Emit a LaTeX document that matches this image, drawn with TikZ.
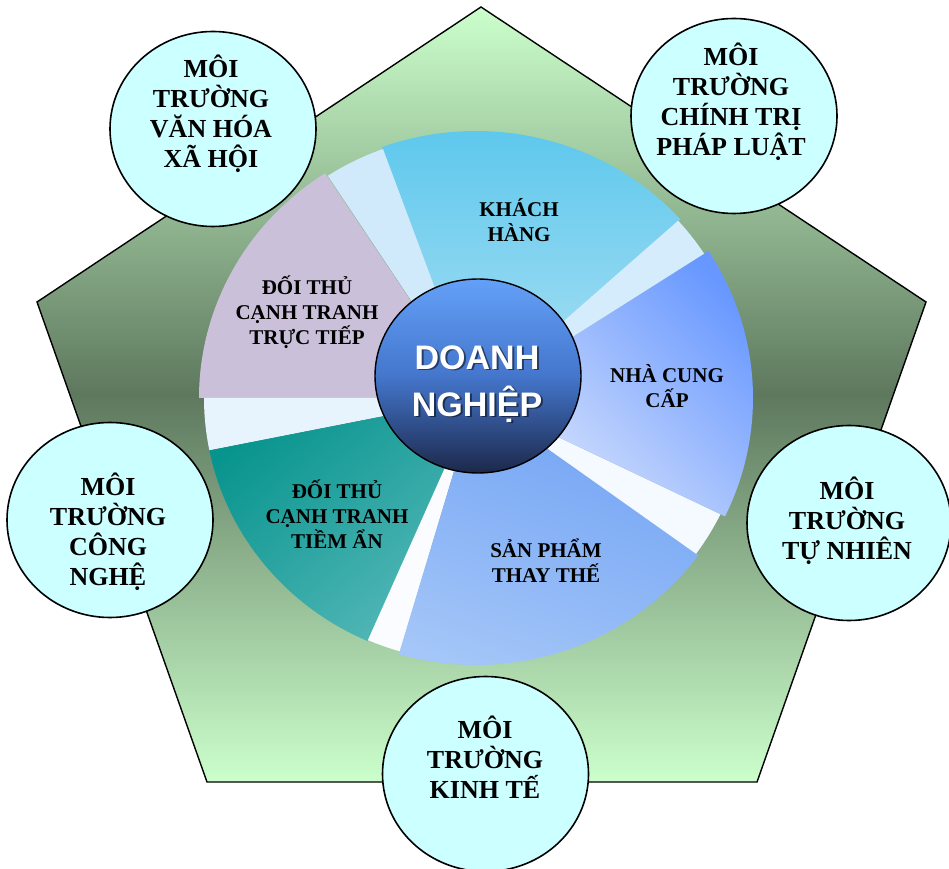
\documentclass[tikz,border=0pt]{standalone}
\usepackage{fontspec}
\setmainfont{Liberation Serif}
\newfontfamily\headsans{Liberation Sans}
\usetikzlibrary{shapes.geometric}

% palette
\definecolor{pentlight}{RGB}{204,255,204}
\definecolor{pentdark}{RGB}{94,120,94}
\definecolor{envfill}{RGB}{204,255,255}
\definecolor{khtop}{RGB}{88,198,236}
\definecolor{khbot}{RGB}{172,224,244}
\definecolor{ncctop}{RGB}{104,152,255}
\definecolor{nccbot}{RGB}{220,230,252}
\definecolor{sptop}{RGB}{112,162,244}
\definecolor{spbot}{RGB}{164,198,248}
\definecolor{tatop}{RGB}{8,148,142}
\definecolor{tabot}{RGB}{84,184,184}
\definecolor{ttfill}{RGB}{203,192,218}
\definecolor{gapa}{RGB}{208,234,252}
\definecolor{gapb}{RGB}{232,244,253}
\definecolor{gapc}{RGB}{250,252,255}
\definecolor{gapd}{RGB}{244,250,255}
\definecolor{gape}{RGB}{212,236,252}
\definecolor{dntop}{RGB}{100,160,248}
\definecolor{dnmid}{RGB}{68,118,204}
\definecolor{dnbot}{RGB}{28,40,74}

% one slice of the ring: style, start angle, end angle, x radius, y radius
\newcommand\piesector[5]{%
  \path[#1] (pc) -- ([shift={(pc)}]#2:#4 and #5)
    arc[start angle=#2, end angle=#3, x radius=#4, y radius=#5] -- cycle;}

\begin{document}
\begin{tikzpicture}[x=1pt,y=1pt,
  envbox/.style={ellipse, draw=black, line width=1.6pt, fill=envfill,
    minimum width=206pt, minimum height=195pt, inner sep=0pt},
  envtext/.style={align=center, font=\fontsize{26}{30}\selectfont\bfseries},
  pietext/.style={align=center, font=\fontsize{21}{25}\selectfont\bfseries},
  coretext/.style={align=center, font=\headsans\fontsize{34}{47}\selectfont\bfseries},
]
\useasboundingbox (0,0) rectangle (949,868);
\clip (0,0) rectangle (949,868);

% pentagon background
\draw[line width=1.4pt, top color=pentlight, bottom color=pentlight,
      middle color=pentdark]
  (481,861) -- (926,566) -- (757,86) -- (207,86) -- (37,566) -- cycle;

% ring of forces around the firm
\coordinate (pc) at (476,470);
\piesector{top color=khtop, bottom color=khbot}{42}{110}{275}{267}
\piesector{fill=gapa}{110}{123}{272}{265}
\piesector{fill=ttfill}{123}{180}{277}{268}
\piesector{fill=gapb}{180}{191.4}{272}{265}
\piesector{top color=tatop, bottom color=tabot, shading angle=40}{191.4}{246.5}{272}{265}
\piesector{fill=gapc}{246.5}{253.7}{271}{264}
\piesector{top color=sptop, bottom color=spbot, shading angle=-20}{253.7}{324}{275}{267}
\piesector{fill=gapd}{324}{334}{272}{265}
\piesector{top color=ncctop, bottom color=nccbot, shading angle=-45}{334}{393}{277}{270}
\piesector{fill=gape}{33}{42}{272}{265}

% slice labels
\node[pietext] (kh) at (519,648) {KHÁCH\\HÀNG};
\node[pietext] (ncc) at (667,482) {NHÀ CUNG\\CẤP};
\node[pietext] (tt) at (307,556) {ĐỐI THỦ\\CẠNH TRANH\\TRỰC TIẾP};
\node[pietext] (ta) at (337,354) {ĐỐI THỦ\\CẠNH TRANH\\TIỀM ẨN};
\node[pietext] (sp) at (546,307) {SẢN PHẨM\\THAY THẾ};

% the firm at the centre
\node[ellipse, draw=black, line width=1.4pt, minimum width=206pt,
      minimum height=194pt, inner sep=0pt, top color=dntop,
      bottom color=dnbot, middle color=dnmid] (dn) at (478,492) {};
\node[coretext, text=black, opacity=0.5] (dnshadow) at (479,482.5) {DOANH\\NGHIỆP};
\node[coretext, text=white] (dntext) at (477,484) {DOANH\\NGHIỆP};

% surrounding environments
\node[envbox] (vh) at (213,739) {};
\node[envbox] (ct) at (734,752) {};
\node[envbox] (cn) at (110,348) {};
\node[envbox, minimum width=204pt] (tn) at (849,345) {};
\node[envbox] (kt) at (485.5,94) {};

\node[envtext] (vhtext) at (211,754) {MÔI\\TRƯỜNG\\VĂN HÓA\\XÃ HỘI};
\node[envtext] (cttext) at (731,766) {MÔI\\TRƯỜNG\\CHÍNH TRỊ\\PHÁP LUẬT};
\node[envtext] (cntext) at (108,336) {MÔI\\TRƯỜNG\\CÔNG\\NGHỆ};
\node[envtext] (tntext) at (847,347) {MÔI\\TRƯỜNG\\TỰ NHIÊN};
\node[envtext] (kttext) at (485,111) {MÔI\\TRƯỜNG\\KINH TẾ};
\end{tikzpicture}
\end{document}
